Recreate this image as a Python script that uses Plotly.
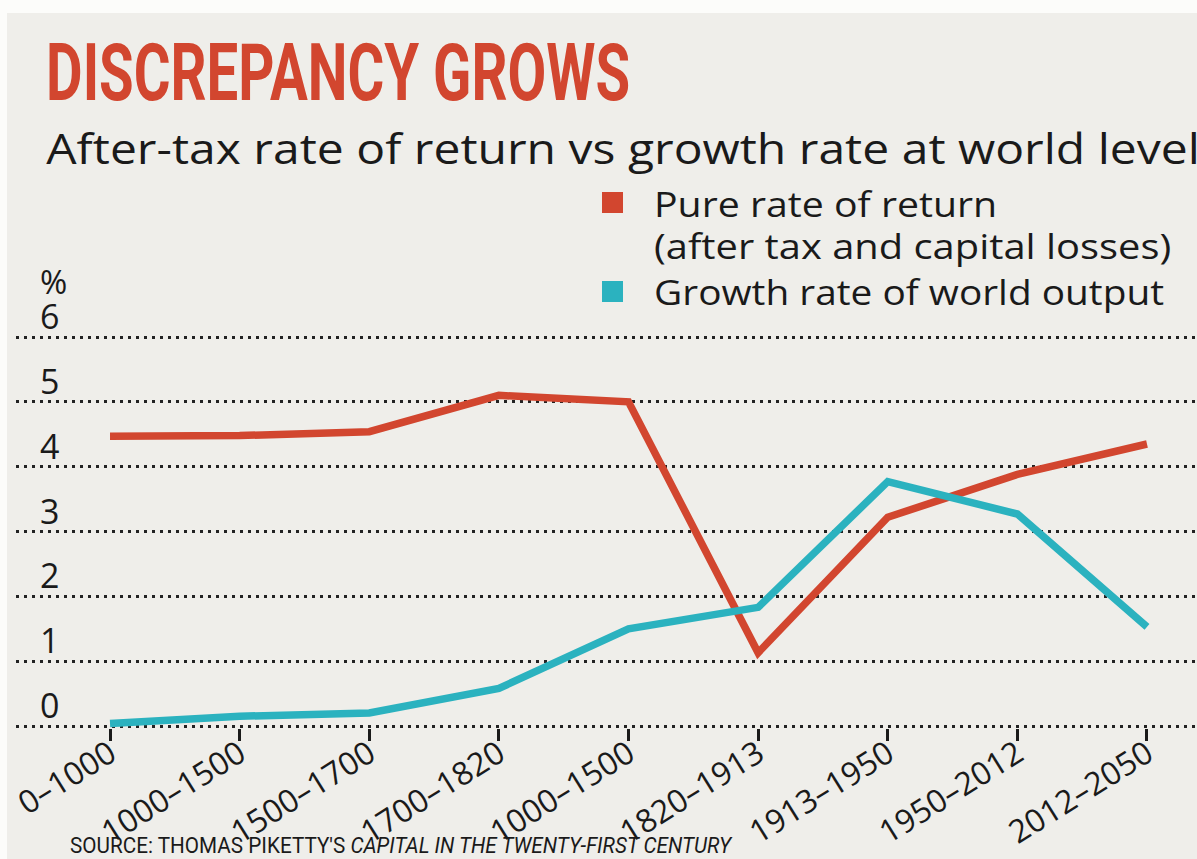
import plotly.graph_objects as go

# Periods on the horizontal axis (labels as printed)
periods = ["0–1000", "1000–1500", "1500–1700", "1700–1820", "1000–1500",
           "1820–1913", "1913–1950", "1950–2012", "2012–2050"]
# Annual rates, in percent
pure_return = [4.47, 4.48, 4.54, 5.10, 5.00, 1.13, 3.22, 3.88, 4.35]
world_growth = [0.04, 0.15, 0.20, 0.58, 1.50, 1.83, 3.77, 3.27, 1.53]
y_ticks = [0, 1, 2, 3, 4, 5, 6]

TITLE = "DISCREPANCY GROWS"
SUBTITLE = "After-tax rate of return vs growth rate at world level"
LEGEND_LINES = ["Pure rate of return", "(after tax and capital losses)",
                "Growth rate of world output"]
SOURCE = "SOURCE: THOMAS PIKETTY'S <i>CAPITAL IN THE TWENTY-FIRST CENTURY</i>"

RED = "#d2462f"
CYAN = "#2bb2bf"
INK = "#1a1a1a"
PAPER = "#efeeea"
BODY_FONT = "Open Sans, Noto Sans, DejaVu Sans, sans-serif"
HEAD_FONT = "Roboto, Open Sans, sans-serif"

W, H = 1197, 859
ML, MR, MT, MB = 16, 0, 300, 131
PW, PH = W - ML - MR, H - MT - MB


def px_x(px):
    return (px - ML) / PW


def px_y(py):
    return (H - MB - py) / PH


# category positions: first tick at 110px, 129.6px apart
x_idx = list(range(len(periods)))
x_lo = -(110 - ML) / 129.6
x_hi = 8 + (W - MR - 1147) / 129.6
unit = 64.8
y_lo = -(728 - 726) / unit
y_hi = 6 + (337 - MT) / unit

fig = go.Figure()
fig.add_trace(go.Scatter(x=x_idx, y=pure_return, mode="lines",
                         line=dict(color=RED, width=7.5),
                         name=LEGEND_LINES[0], showlegend=False))
# second series sits on the overlaid tick axis (same range as the first)
fig.add_trace(go.Scatter(x=x_idx, y=world_growth, mode="lines",
                         line=dict(color=CYAN, width=7.5), xaxis="x2",
                         name=LEGEND_LINES[2], showlegend=False))


def note(text, x, y, size, family=BODY_FONT, color=INK, yref="paper",
         yanchor="middle", yshift=0):
    return dict(text=text, x=x, y=y, xref="paper", yref=yref,
                xanchor="left", yanchor=yanchor, yshift=yshift,
                showarrow=False, font=dict(family=family, size=size, color=color))


annotations = [
    note("<b>" + TITLE + "</b>", px_x(44), px_y(73), 80, HEAD_FONT, RED),
    note(SUBTITLE, px_x(44), px_y(148), 42),
    note(LEGEND_LINES[0], px_x(652), px_y(204), 34),
    note(LEGEND_LINES[1], px_x(652), px_y(246), 34),
    note(LEGEND_LINES[2], px_x(652), px_y(292), 34),
    note("%", px_x(38), px_y(281), 33),
    note(SOURCE, px_x(68), px_y(845), 22, HEAD_FONT),
]
# y value labels sit just above their dotted lines
for v in y_ticks:
    annotations.append(note(str(v), px_x(38), v, 34, yref="y",
                            yanchor="bottom", yshift=-4))

shapes = [
    # printed page area
    dict(type="rect", xref="paper", yref="paper", layer="below",
         x0=px_x(7), x1=px_x(W + 5), y0=px_y(13), y1=px_y(H + 5),
         fillcolor=PAPER, line=dict(width=0)),
    # legend swatches
    dict(type="rect", xref="paper", yref="paper",
         x0=px_x(602), x1=px_x(623), y0=px_y(192), y1=px_y(213),
         fillcolor=RED, line=dict(width=0)),
    dict(type="rect", xref="paper", yref="paper",
         x0=px_x(602), x1=px_x(623), y0=px_y(281), y1=px_y(302),
         fillcolor=CYAN, line=dict(width=0)),
]

fig.update_layout(
    width=W, height=H,
    margin=dict(l=ML, r=MR, t=MT, b=MB, pad=0),
    paper_bgcolor="#fcfcfa",
    plot_bgcolor="rgba(0,0,0,0)",
    showlegend=False,
    annotations=annotations,
    shapes=shapes,
    # labels only
    xaxis=dict(range=[x_lo, x_hi], tickmode="array", tickvals=x_idx,
               ticktext=periods, tickangle=-32, ticks="",
               showgrid=False, zeroline=False, showline=False,
               tickfont=dict(family=BODY_FONT, size=32, color=INK)),
    # tick marks only
    xaxis2=dict(range=[x_lo, x_hi], overlaying="x", side="bottom",
                anchor="y", tickmode="array", tickvals=x_idx,
                showticklabels=False, ticks="outside", ticklen=12,
                tickwidth=3, tickcolor=INK, showgrid=False,
                zeroline=False, showline=False),
    yaxis=dict(range=[y_lo, y_hi], tickmode="array", tickvals=y_ticks,
               showticklabels=False, ticks="", showline=False,
               zeroline=False, showgrid=True, gridcolor="#222222",
               gridwidth=2.5, griddash="2.5px,5.5px"),
)

# Fit the set text lines to their column widths: the headline and source
# use a condensed cut, the subtitle and key a slightly extended one.
fit_js = """
(function () {
  var widths = {"DISCREPANCY GROWS": 584, "SOURCE:": 662, "After-tax": 1154,
                "Pure rate": 343, "(after tax": 517, "Growth rate": 510};
  function fit() {
    document.querySelectorAll('text.annotation-text').forEach(function (t) {
      var s = t.textContent || '';
      Object.keys(widths).forEach(function (k) {
        if (s.indexOf(k) === 0) {
          var bb = t.getBBox();
          if (bb.width > 0) {
            var f = widths[k] / bb.width;
            var x0 = bb.x;
            t.setAttribute('transform',
              'translate(' + x0 + ',0) scale(' + f + ',1) translate(' + (-x0) + ',0)');
          }
        }
      });
    });
  }
  fit();
  setTimeout(fit, 60);
  setTimeout(fit, 400);
})();
"""

fig.write_html("out.html", post_script=fit_js)
